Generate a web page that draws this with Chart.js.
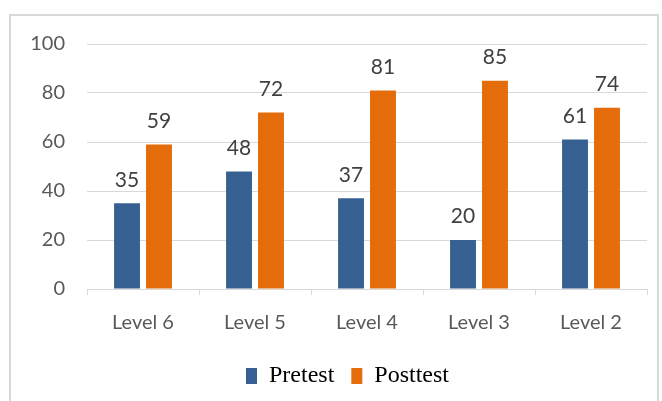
<!DOCTYPE html>
<html><head><meta charset="utf-8">
<script src="https://cdn.jsdelivr.net/npm/chart.js@4"></script>
<style>
html,body{margin:0;padding:0;background:#fff;}
#wrap{position:relative;width:662px;height:401px;overflow:hidden;}
#frame{position:absolute;left:9px;top:14px;width:650px;height:420px;border:2px solid #d9d9d9;box-sizing:border-box;}
canvas{position:absolute;left:0;top:0;}
</style></head>
<body><div id="wrap"><div id="frame"></div><canvas id="c" width="662" height="401"></canvas></div>
<script>
const categories = ['Level 6','Level 5','Level 4','Level 3','Level 2'];
const pretest = [35,48,37,20,61];
const posttest = [59,72,81,85,74];
const yTicks = [0,20,40,60,80,100];

const labelPlugin = {
  id:'valueLabels',
  afterLayout(chart){
    if (chart.legend) { chart.legend.left += 24; chart.legend.right += 24; }
  },
  afterDatasetsDraw(chart){
    const ctx = chart.ctx;
    ctx.save();
    ctx.font = '21px Lato';
    ctx.fillStyle = '#404040';
    ctx.textAlign = 'center';
    ctx.textBaseline = 'bottom';
    chart.data.datasets.forEach((ds,i)=>{
      chart.getDatasetMeta(i).data.forEach((el,j)=>{
        ctx.fillText(String(ds.data[j]), el.x, el.y - 13);
      });
    });
    ctx.restore();
  }
};

new Chart(document.getElementById('c'), {
  type:'bar',
  data:{
    labels:categories,
    datasets:[
      {label:'Pretest', data:pretest, backgroundColor:'#376092', categoryPercentage:0.571, barPercentage:0.81},
      {label:'Posttest', data:posttest, backgroundColor:'#E46C0A', categoryPercentage:0.571, barPercentage:0.81}
    ]
  },
  options:{
    responsive:false, animation:false,
    layout:{padding:{left:0,right:15,top:44,bottom:3}},
    plugins:{
      tooltip:{enabled:false},
      legend:{position:'bottom',
        labels:{font:{family:'Liberation Serif',size:24},color:'#000',boxWidth:11,boxHeight:16,padding:17}}
    },
    scales:{
      x:{
        grid:{display:true,drawOnChartArea:false,color:'#d9d9d9',tickLength:6},
        border:{color:'#d9d9d9',width:1},
        ticks:{font:{family:'Lato',size:20},color:'#595959',padding:16},
        afterFit(s){ s.height = 58; }
      },
      y:{
        min:0,max:100,
        afterBuildTicks(s){ s.ticks = yTicks.map(v=>({value:v})); },
        grid:{color:'#d9d9d9',drawTicks:false},
        border:{display:false},
        ticks:{font:{family:'Lato',size:20},color:'#595959',padding:22},
        afterFit(s){ s.width = 87; }
      }
    }
  },
  plugins:[labelPlugin]
});
</script></body></html>
